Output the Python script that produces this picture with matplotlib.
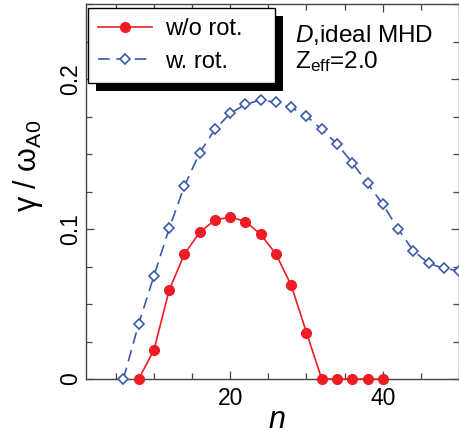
import matplotlib
matplotlib.use("Agg")
import matplotlib.pyplot as plt
from matplotlib.patches import Rectangle
from matplotlib.ticker import MultipleLocator

RED = "#EE1C25"
BLUE = "#3A5BA9"
AXIS = "#444444"

# growth rate without rotation
n_norot = [8, 10, 12, 14, 16, 18, 20, 22, 24, 26, 28, 30, 32, 34, 36, 38, 40]
g_norot = [0.0, 0.0193, 0.0593, 0.0833, 0.0978, 0.106, 0.108, 0.105, 0.0964,
           0.0833, 0.0624, 0.0309, 0.0, 0.0, 0.0, 0.0, 0.0]

# growth rate with rotation
n_rot = [6, 8, 10, 12, 14, 16, 18, 20, 22, 24, 26, 28, 30, 32, 34, 36, 38,
         40, 42, 44, 46, 48, 50]
g_rot = [0.0, 0.0367, 0.0687, 0.1004, 0.1287, 0.1509, 0.1664, 0.1771, 0.1831,
         0.186, 0.1844, 0.1811, 0.1753, 0.1664, 0.1567, 0.1442, 0.1304, 0.1165,
         0.1, 0.0856, 0.0771, 0.0738, 0.0722]

plt.rcParams["font.family"] = ["Liberation Sans", "DejaVu Sans"]
plt.rcParams["mathtext.fontset"] = "custom"
plt.rcParams["mathtext.rm"] = "Liberation Sans"
plt.rcParams["mathtext.it"] = "Liberation Sans:italic"

fig = plt.figure(figsize=(4.6, 4.34), dpi=100)
ax = fig.add_axes([0.187, 0.1267, 0.811, 0.864])

ax.plot(n_norot, g_norot, color=RED, lw=1.2, marker="o", ms=7,
        mfc=RED, mec=RED, label="w/o rot.", zorder=3, clip_on=False)
ax.plot(n_rot, g_rot, color=BLUE, lw=1.2, ls=(0, (7, 4)), marker="D", ms=5.5,
        mfc="white", mec=BLUE, mew=1.2, label="w. rot.", zorder=3, clip_on=False)

ax.set_xlim(1.1, 50)
ax.set_ylim(0, 0.25)
ax.set_xticks([20, 40])
ax.xaxis.set_minor_locator(MultipleLocator(5))
ax.set_yticks([0, 0.1, 0.2])
ax.set_yticklabels(["0", "0.1", "0.2"], rotation=90, va="center")
ax.yaxis.set_minor_locator(MultipleLocator(0.025))

ax.tick_params(which="both", direction="in", top=True, right=True,
               colors=AXIS, labelcolor="black", labelsize=16.5)
ax.tick_params(which="major", length=6, width=0.9)
ax.tick_params(which="minor", length=4, width=0.9)
ax.tick_params(axis="x", pad=6)
ax.tick_params(axis="y", pad=3)
for sp in ax.spines.values():
    sp.set_color(AXIS)
    sp.set_linewidth(1.0)

ax.set_xlabel("$n$", fontsize=22)
ax.xaxis.set_label_coords(0.512, -0.068)
ax.set_ylabel("γ / ω$_{\\rm A0}$", fontsize=22)
ax.yaxis.set_label_coords(-0.11, 0.568)

ax.text(0.56, 0.899, "$D$,ideal MHD", transform=ax.transAxes, fontsize=17.5,
        va="baseline", ha="left")
ax.text(0.56, 0.829, r"Z$_{\rm eff}$=2.0", transform=ax.transAxes,
        fontsize=17.5, va="baseline", ha="left")

leg = ax.legend(loc="upper left", bbox_to_anchor=(0.005, 0.989),
                borderaxespad=0, fontsize=17, handlelength=2.3,
                handletextpad=0.55, labelspacing=0.45, borderpad=0.42,
                frameon=False)
leg.set_zorder(5)

# legend frame drawn wider than its content, with a solid black drop shadow
fig.canvas.draw()
bb = leg.get_window_extent()
x_right = ax.transAxes.transform((0.507, 0))[0]
w = x_right - bb.x0
off = 8
shadow = Rectangle((bb.x0 + off, bb.y0 - off), w, bb.height,
                   transform=None, facecolor="black", edgecolor="none", zorder=4.5)
frame = Rectangle((bb.x0, bb.y0), w, bb.height, transform=None,
                  facecolor="white", edgecolor="black", lw=1.0, zorder=4.8)
ax.add_artist(shadow)
ax.add_artist(frame)

fig.savefig("out.png", dpi=100)
